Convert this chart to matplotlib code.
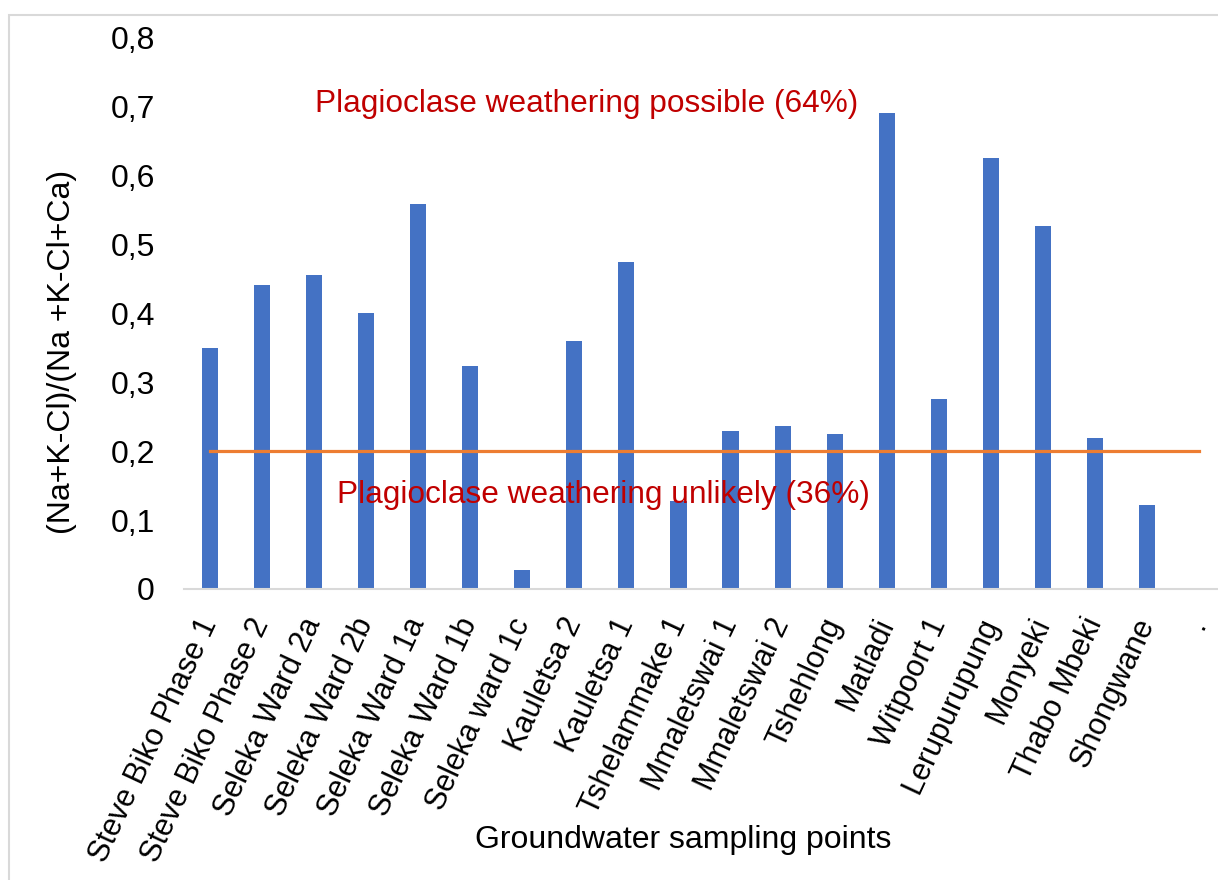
import matplotlib
matplotlib.use("Agg")
import matplotlib.pyplot as plt
from matplotlib.patches import Rectangle
from matplotlib.ticker import FuncFormatter

categories = ["Steve Biko Phase 1", "Steve Biko Phase 2", "Seleka Ward 2a", "Seleka Ward 2b",
              "Seleka Ward 1a", "Seleka Ward 1b", "Seleka ward 1c", "Kauletsa 2", "Kauletsa 1",
              "Tshelammake 1", "Mmaletswai 1", "Mmaletswai 2", "Tshehlong", "Matladi",
              "Witpoort 1", "Lerupurupung", "Monyeki", "Thabo Mbeki", "Shongwane", "."]
ratio = [0.349, 0.441, 0.455, 0.400, 0.558, 0.323, 0.028, 0.359, 0.474,
         0.128, 0.229, 0.236, 0.225, 0.690, 0.275, 0.625, 0.526, 0.219, 0.122, 0.0]
threshold = [0.2] * len(categories)
y_ticks = [0.0, 0.1, 0.2, 0.3, 0.4, 0.5, 0.6, 0.7, 0.8]

plt.rcParams['font.family'] = ['Liberation Sans', 'DejaVu Sans']

W, H = 1218, 880
fig = plt.figure(figsize=(W / 100, H / 100), dpi=100)

# chart-area border (light gray)
fig.patches.append(Rectangle((9 / W, -0.1), 1.2, 1 - 15 / H + 0.1, transform=fig.transFigure,
                             fill=False, edgecolor='#D9D9D9', linewidth=1.5))

ax = fig.add_axes([184 / W, 1 - 589 / H, (1225 - 184) / W, (589 - 37) / H])
x = list(range(len(categories)))
ax.bar(x, ratio, width=0.31, color='#4472C4', zorder=2)
ax.plot(x, threshold, color='#ED7D31', linewidth=2.3, zorder=3)

ax.set_xlim(-0.5, len(categories) - 0.5)
ax.set_ylim(0, 0.8)
ax.set_yticks(y_ticks)
ax.yaxis.set_major_formatter(FuncFormatter(lambda v, p: "0" if v == 0 else f"{v:.1f}".replace('.', ',')))
ax.tick_params(axis='y', length=0, pad=21, labelsize=23)
ax.set_xticks(x)
ax.set_xticklabels(categories, rotation=65, ha='right', va='center', rotation_mode='anchor', fontsize=22)
ax.tick_params(axis='x', length=0, pad=22)

for s in ['top', 'right', 'left']:
    ax.spines[s].set_visible(False)
ax.spines['bottom'].set_color('#D9D9D9')
ax.spines['bottom'].set_linewidth(1.5)

ax.text(7.23, 0.703, "Plagioclase weathering possible (64%)", color='#C00000', fontsize=22.8,
        ha='center', va='center', zorder=4)
ax.text(7.55, 0.136, "Plagioclase weathering unlikely (36%)", color='#C00000', fontsize=22.8,
        ha='center', va='center', zorder=4)

fig.text(62 / W, 1 - 352 / H, "(Na+K-Cl)/(Na +K-Cl+Ca)", rotation=90, fontsize=23,
         ha='center', va='center')
fig.text(683 / W, 1 - 840 / H, "Groundwater sampling points", fontsize=23, ha='center', va='center')

fig.savefig("out.png", dpi=100)
